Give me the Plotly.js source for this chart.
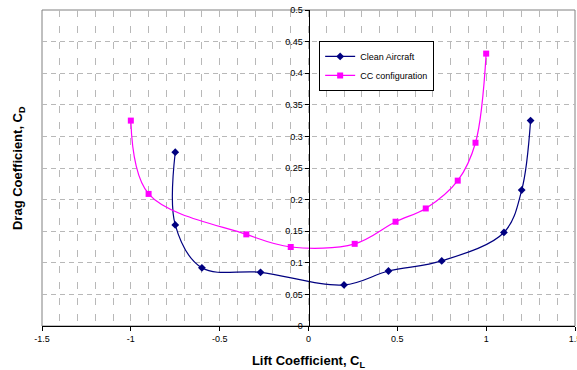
<!DOCTYPE html>
<html><head><meta charset="utf-8">
<script src="https://cdn.plot.ly/plotly-3.0.1.min.js"></script>
<style>html,body{margin:0;padding:0;background:#fff;}#chart{width:577px;height:370px;}</style>
</head><body><div id="chart"></div>
<script>
var cleanCL = [-0.75, -0.75, -0.6, -0.27, 0.2, 0.45, 0.75, 1.1, 1.2, 1.25];
var cleanCD = [0.275, 0.16, 0.092, 0.085, 0.065, 0.087, 0.103, 0.148, 0.215, 0.325];
var ccCL = [-1.0, -0.9, -0.35, -0.1, 0.26, 0.49, 0.66, 0.84, 0.94, 1.0];
var ccCD = [0.325, 0.209, 0.145, 0.125, 0.130, 0.165, 0.186, 0.230, 0.290, 0.431];
var xTicks = [-1.5, -1, -0.5, 0, 0.5, 1, 1.5];
var xTickText = ['-1.5', '-1', '-0.5', '0', '0.5', '1', '1.5'];
var yTicks = [0, 0.05, 0.1, 0.15, 0.2, 0.25, 0.3, 0.35, 0.4, 0.45, 0.5];
var yTickText = ['0', '0.05', '0.1', '0.15', '0.2', '0.25', '0.3', '0.35', '0.4', '0.45', '0.5'];

var font = 'Liberation Sans, Arial, sans-serif';
var gridCol = '#b8b8b8';

var traces = [
  {x: cleanCL, y: cleanCD, name: 'Clean Aircraft', mode: 'lines+markers', type: 'scatter',
   line: {color: '#000080', width: 1.2, shape: 'spline', smoothing: 1},
   marker: {symbol: 'diamond', size: 6, color: '#000080'}},
  {x: ccCL, y: ccCD, name: 'CC configuration', mode: 'lines+markers', type: 'scatter',
   line: {color: '#ff00ff', width: 1.2, shape: 'spline', smoothing: 1},
   marker: {symbol: 'square', size: 6, color: '#ff00ff'}}
];

var layout = {
  width: 577, height: 370,
  margin: {l: 42, r: 2, t: 10, b: 44},
  paper_bgcolor: '#ffffff', plot_bgcolor: '#ffffff',
  showlegend: true,
  font: {family: font, size: 9, color: '#000'},
  xaxis: {
    range: [-1.5, 1.5], tickvals: xTicks, ticktext: xTickText,
    ticklabeloverflow: 'allow',
    showline: true, linecolor: '#000', linewidth: 1,
    ticks: 'outside', ticklen: 4, tickcolor: '#000',
    showgrid: true, gridcolor: gridCol, gridwidth: 1, griddash: '7px,9px',
    minor: {dtick: 0.1, tick0: 0, showgrid: true, gridcolor: gridCol, gridwidth: 1, griddash: '7px,9px', ticks: ''},
    zeroline: false,
    tickfont: {family: font, size: 9},
    title: {text: '<b>Lift Coefficient, C<sub>L</sub></b>', font: {family: font, size: 13}, standoff: 17}
  },
  yaxis: {
    range: [0, 0.5], tickvals: yTicks, ticktext: yTickText,
    anchor: 'free', position: 0.5,
    showline: true, linecolor: '#000', linewidth: 1,
    ticks: 'outside', ticklen: 4, tickcolor: '#000',
    showgrid: true, gridcolor: gridCol, gridwidth: 1, griddash: '5px,4px',
    zeroline: false,
    tickfont: {family: font, size: 9}
  },
  shapes: [
    {type: 'rect', xref: 'paper', yref: 'paper', x0: 0, x1: 1, y0: 0, y1: 1,
     line: {color: '#808080', width: 1}, layer: 'below'}
  ],
  annotations: [
    {text: '<b>Drag Coefficient, C<sub>D</sub></b>', xref: 'paper', yref: 'paper',
     x: -0.045, y: 0.5, textangle: -90, showarrow: false,
     font: {family: font, size: 13}, xanchor: 'center', yanchor: 'middle'}
  ],
  legend: {
    x: 0.52, y: 0.902, xanchor: 'left', yanchor: 'top',
    bgcolor: '#ffffff', bordercolor: '#000', borderwidth: 1,
    font: {family: font, size: 9}, itemwidth: 30, tracegroupgap: 0
  }
};

Plotly.newPlot('chart', traces, layout, {displayModeBar: false, staticPlot: true});
</script></body></html>
